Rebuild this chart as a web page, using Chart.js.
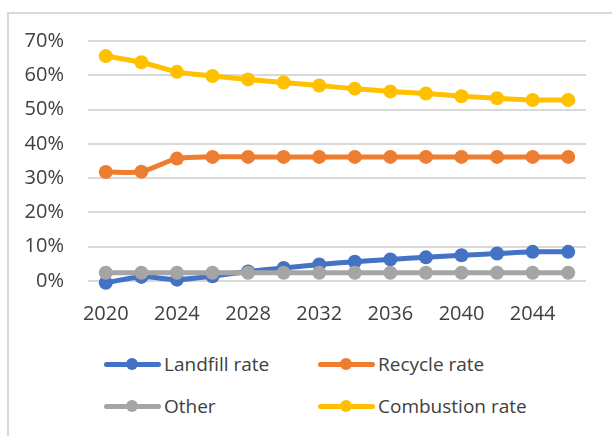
<!DOCTYPE html>
<html>
<head>
<meta charset="utf-8">
<script src="https://cdn.jsdelivr.net/npm/chart.js@4"></script>
<style>
  html, body { margin: 0; padding: 0; background: #fff; }
  body { width: 612px; height: 436px; position: relative; overflow: hidden; font-family: 'Open Sans', sans-serif; }
  .frame { position: absolute; left: 7px; top: 12px; width: 640px; height: 460px; border: 2px solid #d9d9d9; box-sizing: border-box; }
  #chart { position: absolute; left: 0; top: 0; }
  .legend-item { position: absolute; display: flex; align-items: center; height: 24px; color: #404040; font-size: 19px; }
  .swatch { position: relative; width: 57px; height: 5px; border-radius: 3px; margin-right: 3px; }
  .swatch span { position: absolute; left: 22px; top: -3.5px; width: 12px; height: 12px; border-radius: 50%; }
</style>
</head>
<body>
<div class="frame"></div>
<canvas id="chart" width="612" height="340"></canvas>
<div id="legend"></div>
<script>
const years = [2020, 2022, 2024, 2026, 2028, 2030, 2032, 2034, 2036, 2038, 2040, 2042, 2044, 2046]
const landfill = [-0.5, 1.2, 0.4, 1.4, 2.8, 3.8, 4.8, 5.6, 6.3, 6.9, 7.5, 8.0, 8.5, 8.5]
const recycle = [31.8, 31.9, 35.7, 36.2, 36.2, 36.2, 36.2, 36.2, 36.2, 36.2, 36.2, 36.2, 36.2, 36.2]
const other = [2.4, 2.4, 2.4, 2.4, 2.4, 2.4, 2.4, 2.4, 2.4, 2.4, 2.4, 2.4, 2.4, 2.4]
const combustion = [65.6, 63.8, 61.0, 59.8, 58.8, 57.9, 57.0, 56.1, 55.3, 54.7, 53.9, 53.3, 52.8, 52.8]
const seriesNames = ['Landfill rate', 'Recycle rate', 'Other', 'Combustion rate']
const colors = ['#4472C4', '#ED7D31', '#A5A5A5', '#FFC000']
const seriesData = [landfill, recycle, other, combustion]

const tickColor = '#404040'
const tickFont = { size: 20, family: 'Open Sans' }

const datasets = seriesNames.map((name, i) => ({
  label: name,
  data: seriesData[i],
  borderColor: colors[i],
  backgroundColor: colors[i],
  pointBackgroundColor: colors[i],
  pointBorderColor: colors[i],
  borderWidth: 5,
  pointRadius: 7,
  pointBorderWidth: 0,
  tension: 0.3,
  clip: false,
  order: seriesNames.length - i,  // later series drawn on top, like Excel
}))

const chart = new Chart(document.getElementById('chart'), {
  type: 'line',
  data: { labels: years, datasets },
  options: {
    responsive: false,
    animation: false,
    layout: { padding: { left: 0, top: 41, right: 26, bottom: 0 } },
    plugins: { legend: { display: false }, tooltip: { enabled: false } },
    scales: {
      x: {
        offset: true,
        grid: { display: false, drawTicks: false },
        border: { display: false },
        ticks: {
          color: tickColor,
          font: tickFont,
          padding: 21,
          autoSkip: false,
          maxRotation: 0,
          callback: (v, i) => i % 2 === 0 ? years[i] : ''
        },
        afterFit: s => { s.height = 59 }
      },
      y: {
        min: 0,
        max: 70,
        grid: { color: '#d9d9d9', lineWidth: 2, drawTicks: false },
        border: { display: false },
        ticks: {
          stepSize: 10,
          color: tickColor,
          font: tickFont,
          padding: 24,
          callback: v => v + '%'
        },
        afterFit: s => { s.width = 88 }
      }
    }
  }
})

// Legend in a 2x2 grid, like the Excel layout
const legend = document.getElementById('legend')
const cols = [104, 318]
const rows = [352, 394]
seriesNames.forEach((name, i) => {
  const item = document.createElement('div')
  item.className = 'legend-item'
  item.style.left = cols[i % 2] + 'px'
  item.style.top = rows[Math.floor(i / 2)] + 'px'
  item.innerHTML = `<div class="swatch" style="background:${colors[i]}"><span style="background:${colors[i]}"></span></div>${name}`
  legend.appendChild(item)
})
</script>
</body>
</html>
